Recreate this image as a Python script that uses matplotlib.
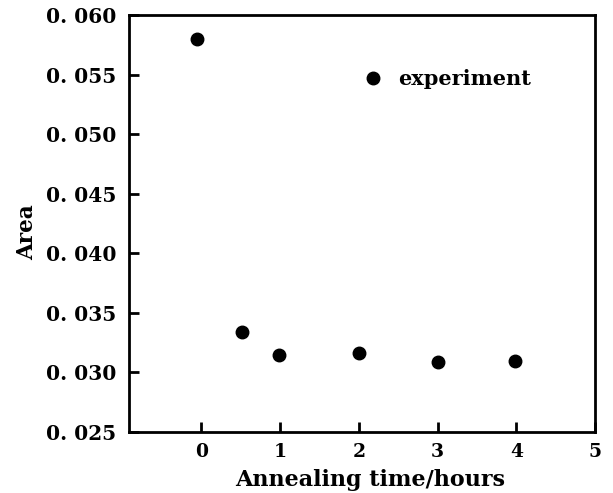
import matplotlib
matplotlib.use("Agg")
import matplotlib.pyplot as plt
from matplotlib.ticker import FuncFormatter

# data
time_h = [-0.06, 0.51, 0.99, 2.0, 3.0, 3.99]
area = [0.0580, 0.0334, 0.0315, 0.0316, 0.0309, 0.0310]
xticks = [0, 1, 2, 3, 4, 5]
yticks = [0.025, 0.030, 0.035, 0.040, 0.045, 0.050, 0.055, 0.060]

plt.rcParams['font.family'] = ['DejaVu Serif']
plt.rcParams['font.weight'] = 'bold'

fig = plt.figure(figsize=(6.13, 4.93), dpi=100)
ax = fig.add_axes([129/613, 1-432/493, (595-129)/613, (432-15)/493])

ax.plot(time_h, area, 'o', color='black', markersize=9, label='experiment')

ax.set_xlim(-0.92, 5.0)
ax.set_ylim(0.025, 0.060)
ax.set_xticks(xticks)
ax.set_yticks(yticks)
ax.yaxis.set_major_formatter(FuncFormatter(lambda v, p: ("%.3f" % v).replace(".", ". ")))

ax.tick_params(direction='in', length=7, width=2)
ax.tick_params(axis='y', labelsize=14.5, pad=9)
ax.tick_params(axis='x', labelsize=13.5, pad=8)
for s in ax.spines.values():
    s.set_linewidth(2)

ax.set_xlabel('Annealing time/hours', fontsize=16, fontweight='bold')
ax.set_ylabel('Area', fontsize=15.5, fontweight='bold')
ax.xaxis.set_label_coords(0.517, -0.088)
ax.yaxis.set_label_coords(-0.195, 0.48)

ax.legend(loc='center left', bbox_to_anchor=(0.501, 0.846), frameon=False,
          borderpad=0, borderaxespad=0, handletextpad=0.7, handlelength=1.0,
          fontsize=15)

fig.savefig('out.png', dpi=100)
